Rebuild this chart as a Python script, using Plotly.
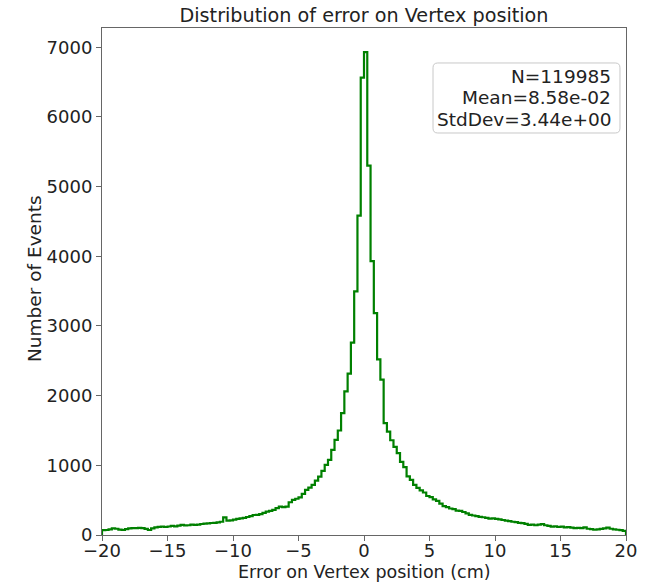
import plotly.graph_objects as go

# Histogram definition (160 bins of 0.25 cm from -20 to 20)
x_min = -20.0
x_max = 20.0
n_bins = 160

# Counts per bin, left half (bins from -20 to 0)
counts_left = [
    70, 72, 80, 95, 90, 78, 72, 85, 95, 100,
    98, 102, 100, 88, 72, 95, 110, 118, 120, 115,
    122, 130, 125, 135, 144, 138, 140, 148, 145, 150,
    158, 162, 168, 172, 175, 180, 190, 254, 206, 210,
    222, 232, 240, 245, 258, 270, 287, 290, 300, 318,
    335, 345, 360, 385, 407, 400, 407, 470, 503, 520,
    541, 590, 647, 680, 718, 780, 838, 920, 1006, 1078,
    1221, 1365, 1500, 1750, 2060, 2315, 2760, 3497, 4585, 6565,
]
# Counts per bin, right half (bins from 0 to 20)
counts_right = [
    6930, 5300, 3930, 3185, 2520, 2230, 1605, 1484, 1360, 1265,
    1175, 1050, 975, 840, 790, 720, 675, 640, 610, 560,
    545, 510, 490, 450, 415, 400, 380, 370, 350, 345,
    330, 310, 290, 280, 272, 260, 255, 245, 235, 240,
    230, 225, 215, 205, 200, 190, 185, 175, 170, 160,
    145, 150, 140, 150, 155, 140, 130, 120, 125, 115,
    120, 110, 112, 105, 100, 103, 98, 110, 90, 85,
    75, 80, 88, 95, 105, 90, 82, 75, 70, 60,
]
counts = counts_left + counts_right

stats_lines = ["N=119985", "Mean=8.58e-02", "StdDev=3.44e+00"]
title = "Distribution of error on Vertex position"
x_label = "Error on Vertex position (cm)"
y_label = "Number of Events"
x_ticks = [-20, -15, -10, -5, 0, 5, 10, 15, 20]
y_ticks = [0, 1000, 2000, 3000, 4000, 5000, 6000, 7000]

width = (x_max - x_min) / n_bins
edges = [x_min + i * width for i in range(n_bins + 1)]

# step outline like matplotlib histtype='step'
xs = [edges[0]] + edges + [edges[-1]]
ys = [0] + counts + [counts[-1]] + [0]

def fmt(v):
    return ("\u2212" + str(abs(v))) if v < 0 else str(v)

font = "DejaVu Sans, Verdana, sans-serif"
txt = "#222222"
fig = go.Figure()
fig.add_trace(go.Scatter(
    x=xs, y=ys, mode="lines", line=dict(color="#008000", width=2.2, shape="hv"),
    hoverinfo="skip", showlegend=False,
))

ymax = max(counts) * 1.05
axis_common = dict(
    showgrid=False, zeroline=False, showline=True, linecolor="#666666", linewidth=1,
    mirror=True, ticks="outside", ticklen=5, tickwidth=1, tickcolor="#666666",
    tickfont=dict(family=font, size=18, color=txt), automargin=False,
)
fig.update_xaxes(range=[x_min, x_max], tickvals=x_ticks, ticktext=[fmt(v) for v in x_ticks],
                 ticklabelstandoff=-6, **axis_common)
fig.update_yaxes(range=[0, ymax], tickvals=y_ticks, ticktext=[str(v) for v in y_ticks],
                 ticklabelstandoff=0, **axis_common)

# axis titles
fig.add_annotation(xref="paper", yref="paper", x=0.5, y=0, xanchor="center", yanchor="middle",
                   yshift=-37, text=x_label, showarrow=False,
                   font=dict(family=font, size=17.5, color=txt))
fig.add_annotation(xref="paper", yref="paper", x=0, y=0.505, xanchor="center", yanchor="middle",
                   xshift=-67, textangle=-90, text=y_label, showarrow=False,
                   font=dict(family=font, size=18.5, color=txt))

# stats box (rounded rectangle) in paper coordinates
bx0, bx1, by0, by1 = 0.6317, 0.9885, 0.7929, 0.931
rx, ry = 0.009, 0.0095
path = (f"M {bx0+rx},{by0} L {bx1-rx},{by0} Q {bx1},{by0} {bx1},{by0+ry} "
        f"L {bx1},{by1-ry} Q {bx1},{by1} {bx1-rx},{by1} "
        f"L {bx0+rx},{by1} Q {bx0},{by1} {bx0},{by1-ry} "
        f"L {bx0},{by0+ry} Q {bx0},{by0} {bx0+rx},{by0} Z")
fig.add_shape(type="path", path=path, xref="paper", yref="paper",
              line=dict(color="#c8c8c8", width=1), fillcolor="rgba(255,255,255,0.8)")
line_y = [0.905, 0.862, 0.819]
for s, yy in zip(stats_lines, line_y):
    fig.add_annotation(xref="paper", yref="paper", x=0.976, y=yy, xanchor="right", yanchor="middle",
                       text=s, showarrow=False, font=dict(family=font, size=18.5, color=txt))

fig.update_layout(
    width=651, height=582,
    margin=dict(l=102, r=25, t=28, b=47),
    paper_bgcolor="white", plot_bgcolor="white",
    title=dict(text=title, x=0.5, xanchor="center", xref="paper", y=0.974, yanchor="middle",
               font=dict(family=font, size=19.2, color=txt)),
)

fig.write_html("out.html")
